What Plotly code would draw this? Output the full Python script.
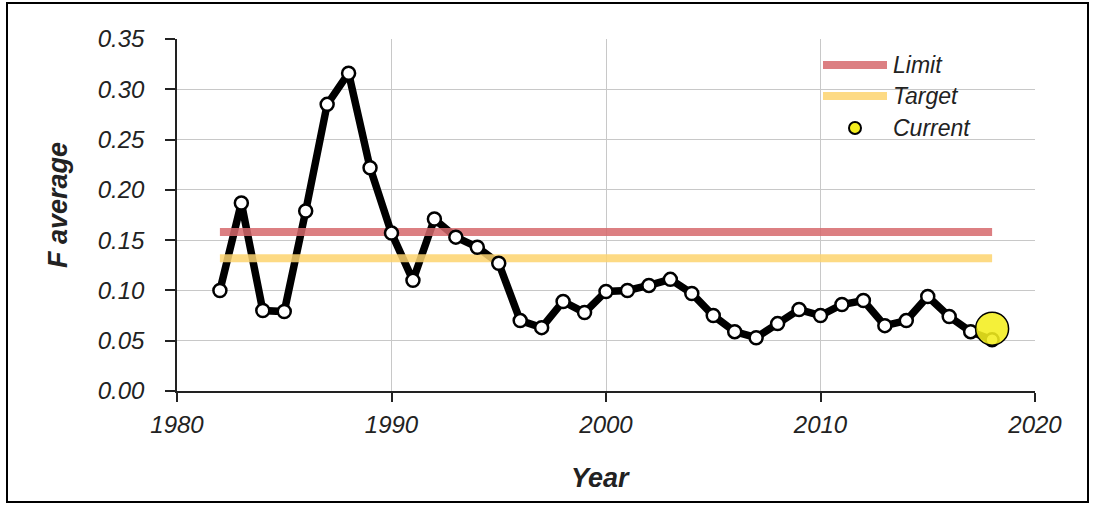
import plotly.graph_objects as go

years = list(range(1982, 2019))
f_average = [0.100, 0.187, 0.080, 0.079, 0.179, 0.285, 0.316, 0.222, 0.157, 0.110,
             0.171, 0.153, 0.143, 0.127, 0.070, 0.063, 0.089, 0.078, 0.099, 0.100,
             0.105, 0.111, 0.097, 0.075, 0.059, 0.053, 0.067, 0.081, 0.075, 0.086,
             0.090, 0.065, 0.070, 0.094, 0.074, 0.059, 0.051]
ref_years = [1982, 2018]
limit_value = [0.158, 0.158]
target_value = [0.132, 0.132]
current_year = [2018]
current_value = [0.062]

x_ticks = [1980, 1990, 2000, 2010, 2020]
y_ticks = [0.00, 0.05, 0.10, 0.15, 0.20, 0.25, 0.30, 0.35]
legend_labels = ["Limit", "Target", "Current"]

LIMIT_C = "rgba(214,104,108,0.85)"
TARGET_C = "rgba(253,212,110,0.85)"
CURRENT_C = "rgba(244,238,30,0.88)"
FONT = "Liberation Sans, Arial, sans-serif"

fig = go.Figure()
fig.add_trace(go.Scatter(x=years, y=f_average, mode="lines",
                         line=dict(color="black", width=7.5), showlegend=False,
                         hoverinfo="skip"))
fig.add_trace(go.Scatter(x=ref_years, y=limit_value, mode="lines",
                         line=dict(color=LIMIT_C, width=8), name="Limit", showlegend=False))
fig.add_trace(go.Scatter(x=ref_years, y=target_value, mode="lines",
                         line=dict(color=TARGET_C, width=8), name="Target", showlegend=False))
fig.add_trace(go.Scatter(x=years, y=f_average, mode="markers",
                         marker=dict(size=13, color="white", line=dict(color="black", width=2.5)),
                         showlegend=False, name="F average"))
fig.add_trace(go.Scatter(x=current_year, y=current_value, mode="markers",
                         marker=dict(size=33, color=CURRENT_C, line=dict(color="black", width=1.5)),
                         showlegend=False, name="Current"))

# manual legend (paper coordinates)
L, B, W, H = 177, 391, 858, 352
def px(xp): return (xp - L) / W
def py(yp): return (B - yp) / H

shapes = []
for lbl_y, col in [(65, LIMIT_C), (96, TARGET_C)]:
    shapes.append(dict(type="line", xref="paper", yref="paper",
                       x0=px(823), x1=px(887), y0=py(lbl_y), y1=py(lbl_y),
                       line=dict(color=col, width=8)))
shapes.append(dict(type="circle", xref="paper", yref="paper",
                   x0=px(849), x1=px(861), y0=py(134), y1=py(122),
                   fillcolor="#f4ee1e", line=dict(color="black", width=2)))
# outer frame
shapes.append(dict(type="rect", xref="paper", yref="paper",
                   x0=px(7), x1=px(1088), y0=py(502), y1=py(3),
                   line=dict(color="black", width=2), fillcolor="rgba(0,0,0,0)"))

annotations = []
for lbl, lbl_y in zip(legend_labels, [65, 96, 128]):
    annotations.append(dict(text=f"<i>{lbl}</i>", xref="paper", yref="paper",
                            x=px(891), y=py(lbl_y), xanchor="left", yanchor="middle",
                            showarrow=False, font=dict(family=FONT, size=23, color="#222")))
annotations.append(dict(text="<b><i>F average</i></b>", xref="paper", yref="paper",
                        x=px(58), y=py(205), xanchor="center", yanchor="middle",
                        textangle=-90, showarrow=False,
                        font=dict(family=FONT, size=27, color="#222")))
annotations.append(dict(text="<b><i>Year</i></b>", xref="paper", yref="paper",
                        x=px(600), y=py(478), xanchor="center", yanchor="middle",
                        showarrow=False, font=dict(family=FONT, size=27, color="#222")))

fig.update_layout(
    width=1093, height=505,
    margin=dict(l=177, r=58, t=39, b=114),
    paper_bgcolor="white", plot_bgcolor="white",
    shapes=shapes, annotations=annotations,
    font=dict(family=FONT, color="#222"),
)
fig.update_xaxes(range=[1980, 2020], tickvals=x_ticks, ticktext=[str(v) for v in x_ticks],
                 showgrid=True, gridcolor="#c8c8c8", gridwidth=1,
                 showline=True, linecolor="#222", linewidth=1.5,
                 ticks="outside", ticklen=9, tickcolor="#222", tickwidth=1.5,
                 tickfont=dict(family=FONT, size=24, color="#222", style="italic"),
                 ticklabelstandoff=2, zeroline=False)
fig.update_yaxes(range=[0, 0.35], tickvals=y_ticks, ticktext=[f"{v:.2f}" for v in y_ticks],
                 showgrid=True, gridcolor="#c8c8c8", gridwidth=1,
                 showline=True, linecolor="#222", linewidth=1.5,
                 ticks="outside", ticklen=10, tickcolor="#222", tickwidth=1.5,
                 tickfont=dict(family=FONT, size=24, color="#222", style="italic"),
                 ticklabelstandoff=16, zeroline=False)

fig.write_html("out.html")
